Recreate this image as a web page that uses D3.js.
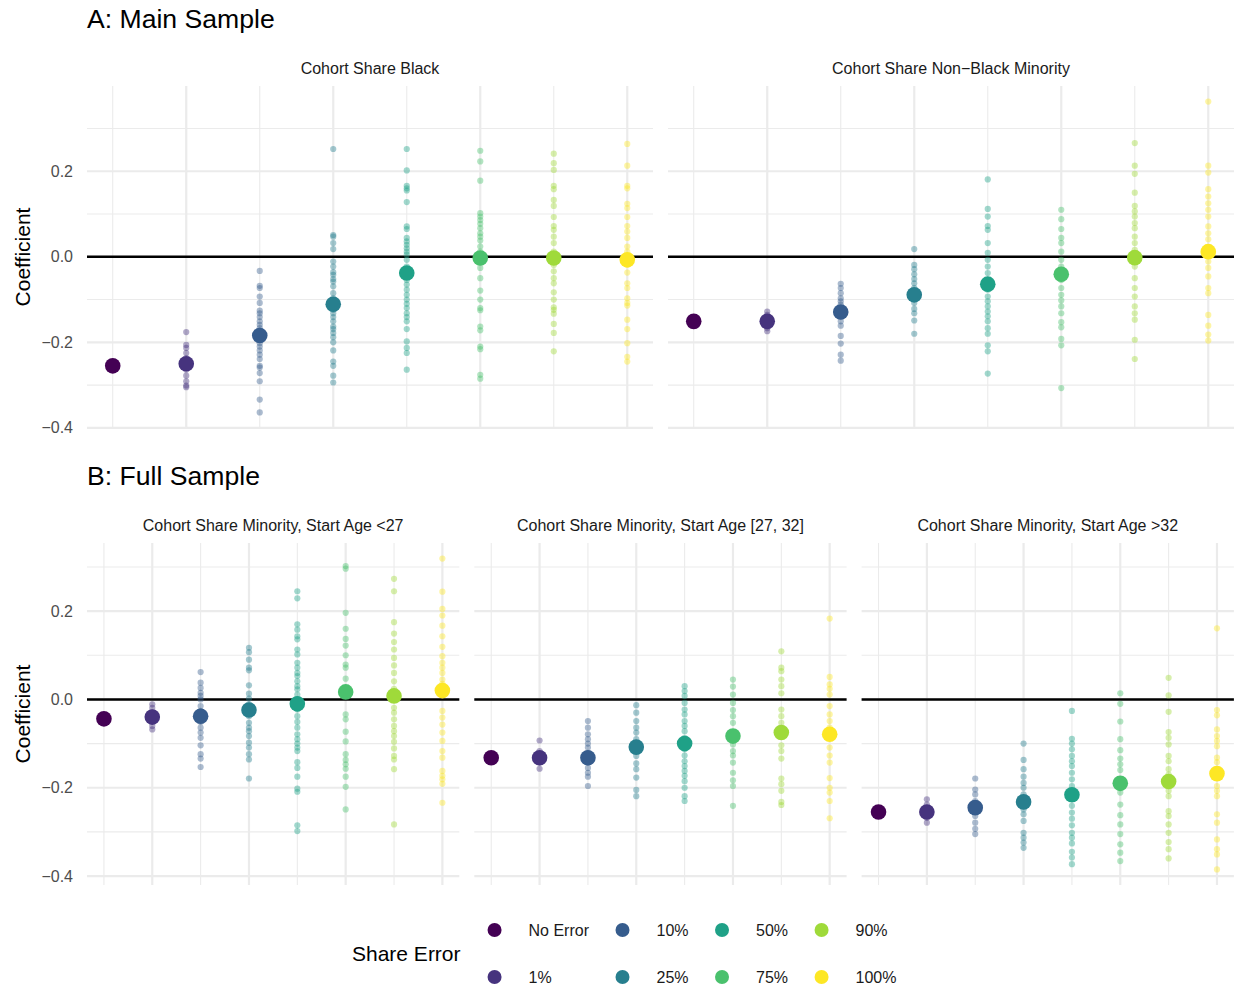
<!DOCTYPE html>
<html>
<head>
<meta charset="utf-8">
<script src="https://cdn.jsdelivr.net/npm/d3@7"></script>
<style>
  body { margin: 0; background: #fff; }
  text { font-family: "Liberation Sans", Arial, Helvetica, sans-serif; }
</style>
</head>
<body>
<svg id="chart"></svg>
<script>
const shareErrors = ["No Error", "1%", "10%", "25%", "50%", "75%", "90%", "100%"];
const errorColors = ["#440154", "#46337E", "#365C8D", "#277F8E", "#1FA187", "#4AC16D", "#9FDA3A", "#FDE725"];
const majorTicks = [-0.4, -0.2, 0.0, 0.2];
const minorTicks = [-0.3, -0.1, 0.1, 0.3];

// A: main sample, cohort share black
const blackEstimates = [-0.255, -0.25, -0.184, -0.111, -0.038, -0.003, -0.003, -0.007];
const blackDraws = [
  [],
  [-0.176, -0.206, -0.213, -0.225, -0.237, -0.25, -0.264, -0.278, -0.291, -0.301, -0.305],
  [-0.033, -0.068, -0.073, -0.093, -0.108, -0.126, -0.132, -0.141, -0.151, -0.159, -0.167, -0.175, -0.184, -0.194, -0.202, -0.21, -0.219, -0.229, -0.239, -0.255, -0.259, -0.272, -0.291, -0.334, -0.364],
  [0.252, 0.051, 0.047, 0.032, 0.018, -0.011, -0.023, -0.036, -0.042, -0.052, -0.058, -0.069, -0.085, -0.097, -0.111, -0.124, -0.132, -0.141, -0.151, -0.163, -0.169, -0.178, -0.188, -0.2, -0.219, -0.245, -0.255, -0.278, -0.294],
  [0.252, 0.202, 0.166, 0.16, 0.155, 0.128, 0.071, 0.065, 0.044, 0.036, 0.028, 0.02, 0.012, 0.005, -0.007, -0.023, -0.038, -0.054, -0.065, -0.077, -0.089, -0.1, -0.11, -0.12, -0.132, -0.141, -0.151, -0.169, -0.198, -0.213, -0.225, -0.264],
  [0.248, 0.223, 0.178, 0.102, 0.094, 0.086, 0.077, 0.067, 0.055, 0.047, 0.038, 0.024, 0.012, -0.011, -0.026, -0.05, -0.079, -0.1, -0.12, -0.125, -0.163, -0.172, -0.21, -0.216, -0.276, -0.285],
  [0.241, 0.219, 0.203, 0.166, 0.158, 0.133, 0.119, 0.093, 0.072, 0.063, 0.047, 0.032, 0.012, -0.019, -0.034, -0.05, -0.062, -0.083, -0.1, -0.118, -0.124, -0.133, -0.157, -0.178, -0.221],
  [0.264, 0.213, 0.166, 0.16, 0.124, 0.114, 0.093, 0.072, 0.059, 0.044, 0.024, 0.012, -0.019, -0.037, -0.062, -0.073, -0.097, -0.108, -0.114, -0.147, -0.169, -0.202, -0.234, -0.245]
];

// A: main sample, cohort share non-black minority
const nonBlackEstimates = [-0.151, -0.151, -0.129, -0.089, -0.064, -0.041, -0.002, 0.012];
const nonBlackDraws = [
  [],
  [-0.128, -0.136, -0.167, -0.174],
  [-0.063, -0.073, -0.085, -0.097, -0.104, -0.112, -0.12, -0.139, -0.151, -0.161, -0.185, -0.203, -0.229, -0.243],
  [0.018, -0.019, -0.029, -0.041, -0.052, -0.062, -0.073, -0.108, -0.122, -0.132, -0.149, -0.18],
  [0.181, 0.112, 0.094, 0.072, 0.063, 0.032, 0.009, -0.007, -0.023, -0.038, -0.054, -0.077, -0.093, -0.104, -0.116, -0.128, -0.139, -0.151, -0.167, -0.18, -0.207, -0.221, -0.273],
  [0.11, 0.088, 0.065, 0.044, 0.032, 0.012, -0.007, -0.023, -0.054, -0.073, -0.089, -0.102, -0.116, -0.132, -0.153, -0.165, -0.192, -0.207, -0.307],
  [0.266, 0.213, 0.194, 0.15, 0.119, 0.106, 0.094, 0.079, 0.067, 0.047, 0.032, 0.016, -0.023, -0.05, -0.073, -0.093, -0.116, -0.132, -0.147, -0.194, -0.239],
  [0.363, 0.213, 0.197, 0.158, 0.141, 0.125, 0.11, 0.094, 0.071, 0.055, 0.041, -0.011, -0.026, -0.046, -0.073, -0.085, -0.136, -0.161, -0.182, -0.196]
];

// B: full sample, start age < 27
const youngEstimates = [-0.044, -0.04, -0.038, -0.024, -0.01, 0.017, 0.008, 0.02];
const youngDraws = [
  [],
  [-0.011, -0.019, -0.03, -0.049, -0.06, -0.068],
  [0.062, 0.038, 0.026, 0.015, 0.008, 0, -0.015, -0.026, -0.051, -0.064, -0.075, -0.087, -0.104, -0.124, -0.134, -0.153],
  [0.117, 0.107, 0.09, 0.072, 0.066, 0.032, 0.013, 0.002, -0.011, -0.038, -0.053, -0.064, -0.072, -0.083, -0.098, -0.109, -0.124, -0.136, -0.179],
  [0.245, 0.229, 0.17, 0.158, 0.143, 0.136, 0.113, 0.102, 0.083, 0.072, 0.06, 0.053, 0.041, 0.03, 0.023, 0.011, 0, -0.023, -0.038, -0.051, -0.064, -0.079, -0.09, -0.1, -0.109, -0.117, -0.142, -0.155, -0.175, -0.202, -0.209, -0.285, -0.298],
  [0.302, 0.296, 0.196, 0.16, 0.137, 0.122, 0.1, 0.079, 0.072, 0.047, -0.034, -0.045, -0.073, -0.095, -0.124, -0.137, -0.147, -0.157, -0.175, -0.198, -0.249],
  [0.273, 0.245, 0.175, 0.149, 0.13, 0.113, 0.094, 0.077, 0.06, 0.041, 0.024, -0.019, -0.03, -0.045, -0.06, -0.072, -0.083, -0.096, -0.111, -0.128, -0.136, -0.158, -0.283],
  [0.319, 0.244, 0.205, 0.19, 0.167, 0.143, 0.119, 0.098, 0.083, 0.072, 0.06, 0.045, 0.035, -0.026, -0.041, -0.057, -0.075, -0.094, -0.117, -0.132, -0.162, -0.173, -0.181, -0.191, -0.234]
];

// B: full sample, start age [27, 32]
const midEstimates = [-0.132, -0.132, -0.132, -0.108, -0.1, -0.083, -0.075, -0.079];
const midDraws = [
  [],
  [-0.093, -0.117, -0.124, -0.143, -0.157],
  [-0.049, -0.064, -0.079, -0.09, -0.1, -0.109, -0.121, -0.143, -0.155, -0.166, -0.175, -0.196],
  [-0.013, -0.03, -0.049, -0.064, -0.075, -0.09, -0.128, -0.145, -0.158, -0.177, -0.205, -0.219],
  [0.03, 0.019, 0.008, -0.008, -0.023, -0.034, -0.049, -0.06, -0.072, -0.087, -0.113, -0.127, -0.14, -0.151, -0.162, -0.173, -0.185, -0.2, -0.219, -0.23],
  [0.045, 0.029, 0.011, -0.008, -0.024, -0.038, -0.053, -0.102, -0.117, -0.127, -0.143, -0.166, -0.183, -0.196, -0.241],
  [0.109, 0.072, 0.064, 0.045, 0.03, 0.014, -0.023, -0.038, -0.053, -0.104, -0.117, -0.134, -0.179, -0.192, -0.207, -0.232, -0.239],
  [0.183, 0.051, 0.034, 0.024, 0.011, -0.015, -0.034, -0.049, -0.064, -0.109, -0.127, -0.143, -0.178, -0.2, -0.211, -0.23, -0.269]
];

// B: full sample, start age > 32
const oldEstimates = [-0.255, -0.255, -0.245, -0.232, -0.216, -0.19, -0.186, -0.168];
const oldDraws = [
  [],
  [-0.226, -0.238, -0.268, -0.279],
  [-0.179, -0.204, -0.215, -0.23, -0.264, -0.279, -0.293, -0.305],
  [-0.1, -0.137, -0.158, -0.175, -0.189, -0.2, -0.215, -0.249, -0.26, -0.275, -0.302, -0.313, -0.324, -0.336],
  [-0.026, -0.089, -0.1, -0.113, -0.128, -0.14, -0.151, -0.166, -0.181, -0.196, -0.241, -0.256, -0.27, -0.285, -0.302, -0.313, -0.326, -0.345, -0.358, -0.373],
  [0.014, -0.01, -0.05, -0.09, -0.115, -0.134, -0.147, -0.16, -0.211, -0.238, -0.262, -0.283, -0.305, -0.328, -0.347, -0.366],
  [0.049, 0.009, -0.028, -0.074, -0.087, -0.102, -0.128, -0.14, -0.158, -0.17, -0.207, -0.219, -0.253, -0.264, -0.283, -0.302, -0.323, -0.339, -0.36],
  [0.161, -0.024, -0.036, -0.068, -0.083, -0.094, -0.106, -0.132, -0.142, -0.196, -0.207, -0.219, -0.26, -0.279, -0.317, -0.339, -0.351, -0.385]
];

const width = 1234;
const height = 989;
const svg = d3.select("#chart").attr("width", width).attr("height", height);

// y domain like ggplot: data range + 5% on both sides, shared per row
const rowDomain = (panels) => {
  const all = panels.flatMap((p) => p.estimates.concat(p.draws.flat()));
  const [lo, hi] = d3.extent(all);
  const pad = (hi - lo) * 0.05;
  return [lo - pad, hi + pad];
};

const dotPanel = () => {
  let left, top, w, h, yScale, label, estimates, draws;

  const my = (selection) => {
    const xScale = d3.scaleLinear().domain([0.65, 8.35]).range([left, left + w]);
    const g = selection.append("g");

    g.selectAll(".minorY")
      .data(minorTicks.filter((t) => yScale(t) >= top && yScale(t) <= top + h))
      .join("line")
      .attr("x1", left).attr("x2", left + w)
      .attr("y1", (d) => yScale(d)).attr("y2", (d) => yScale(d))
      .attr("stroke", "#ebebeb").attr("stroke-width", 1.1);
    g.selectAll(".minorX")
      .data([1, 3, 5, 7])
      .join("line")
      .attr("x1", (d) => xScale(d)).attr("x2", (d) => xScale(d))
      .attr("y1", top).attr("y2", top + h)
      .attr("stroke", "#ebebeb").attr("stroke-width", 1.1);
    g.selectAll(".majorY")
      .data(majorTicks)
      .join("line")
      .attr("x1", left).attr("x2", left + w)
      .attr("y1", (d) => yScale(d)).attr("y2", (d) => yScale(d))
      .attr("stroke", "#ebebeb").attr("stroke-width", 2.2);
    g.selectAll(".majorX")
      .data([2, 4, 6, 8])
      .join("line")
      .attr("x1", (d) => xScale(d)).attr("x2", (d) => xScale(d))
      .attr("y1", top).attr("y2", top + h)
      .attr("stroke", "#ebebeb").attr("stroke-width", 2.2);

    g.append("line")
      .attr("x1", left).attr("x2", left + w)
      .attr("y1", yScale(0)).attr("y2", yScale(0))
      .attr("stroke", "#000").attr("stroke-width", 2.4);

    const small = draws.flatMap((vals, i) => vals.map((v) => ({ i, v })));
    g.selectAll(".draw")
      .data(small)
      .join("circle")
      .attr("cx", (d) => xScale(d.i + 1))
      .attr("cy", (d) => yScale(d.v))
      .attr("r", 3.1)
      .attr("fill", (d) => errorColors[d.i])
      .attr("fill-opacity", 0.42);

    g.selectAll(".estimate")
      .data(estimates)
      .join("circle")
      .attr("cx", (d, i) => xScale(i + 1))
      .attr("cy", (d) => yScale(d))
      .attr("r", 7.8)
      .attr("fill", (d, i) => errorColors[i]);

    g.append("text")
      .attr("x", left + w / 2)
      .attr("y", top - 12)
      .attr("text-anchor", "middle")
      .attr("font-size", 16)
      .attr("fill", "#1a1a1a")
      .text(label);
  };

  my.left = function (_) { return arguments.length ? ((left = +_), my) : left; };
  my.top = function (_) { return arguments.length ? ((top = +_), my) : top; };
  my.w = function (_) { return arguments.length ? ((w = +_), my) : w; };
  my.h = function (_) { return arguments.length ? ((h = +_), my) : h; };
  my.yScale = function (_) { return arguments.length ? ((yScale = _), my) : yScale; };
  my.label = function (_) { return arguments.length ? ((label = _), my) : label; };
  my.estimates = function (_) { return arguments.length ? ((estimates = _), my) : estimates; };
  my.draws = function (_) { return arguments.length ? ((draws = _), my) : draws; };
  return my;
};

const rows = [
  {
    title: "A: Main Sample",
    top: 86,
    panelWidth: 566,
    panels: [
      { label: "Cohort Share Black", estimates: blackEstimates, draws: blackDraws },
      { label: "Cohort Share Non\u2212Black Minority", estimates: nonBlackEstimates, draws: nonBlackDraws }
    ]
  },
  {
    title: "B: Full Sample",
    top: 543,
    panelWidth: 372.3,
    panels: [
      { label: "Cohort Share Minority, Start Age <27", estimates: youngEstimates, draws: youngDraws },
      { label: "Cohort Share Minority, Start Age [27, 32]", estimates: midEstimates, draws: midDraws },
      { label: "Cohort Share Minority, Start Age >32", estimates: oldEstimates, draws: oldDraws }
    ]
  }
];

const panelLeft = 87;
const panelGap = 15;
const panelHeight = 342;

rows.forEach((row) => {
  const yScale = d3.scaleLinear()
    .domain(rowDomain(row.panels))
    .range([row.top + panelHeight, row.top]);

  svg.append("text")
    .attr("x", panelLeft)
    .attr("y", row.top - 58)
    .attr("font-size", 26.6)
    .attr("fill", "#000")
    .text(row.title);

  // y axis tick labels
  svg.append("g")
    .selectAll("text")
    .data(majorTicks)
    .join("text")
    .attr("x", 73)
    .attr("y", (d) => yScale(d))
    .attr("dy", "0.35em")
    .attr("text-anchor", "end")
    .attr("font-size", 16)
    .attr("fill", "#4d4d4d")
    .text((d) => d3.format(".1f")(d).replace("-", "\u2212"));

  svg.append("text")
    .attr("transform", `translate(30, ${row.top + panelHeight / 2}) rotate(-90)`)
    .attr("text-anchor", "middle")
    .attr("font-size", 21)
    .attr("fill", "#000")
    .text("Coefficient");

  row.panels.forEach((p, k) => {
    svg.call(
      dotPanel()
        .left(panelLeft + k * (row.panelWidth + panelGap))
        .top(row.top)
        .w(row.panelWidth)
        .h(panelHeight)
        .yScale(yScale)
        .label(p.label)
        .estimates(p.estimates)
        .draws(p.draws)
    );
  });
});

// legend, two rows filled by column
const legend = svg.append("g");
const legendTitle = legend.append("text")
  .attr("x", 352)
  .attr("y", 954)
  .attr("dy", "0.35em")
  .attr("font-size", 21)
  .attr("fill", "#000")
  .text("Share Error");

const rowY = [930, 977];
let colX = 352 + legendTitle.node().getComputedTextLength() + 34;
d3.range(0, shareErrors.length, 2).forEach((start) => {
  let maxEnd = 0;
  [start, start + 1].forEach((i, r) => {
    legend.append("circle")
      .attr("cx", colX)
      .attr("cy", rowY[r])
      .attr("r", 7)
      .attr("fill", errorColors[i]);
    const t = legend.append("text")
      .attr("x", colX + 34)
      .attr("y", rowY[r])
      .attr("dy", "0.35em")
      .attr("font-size", 16)
      .attr("fill", "#1a1a1a")
      .text(shareErrors[i]);
    maxEnd = Math.max(maxEnd, colX + 34 + t.node().getComputedTextLength());
  });
  colX = maxEnd + 33.5;
});
</script>
</body>
</html>
